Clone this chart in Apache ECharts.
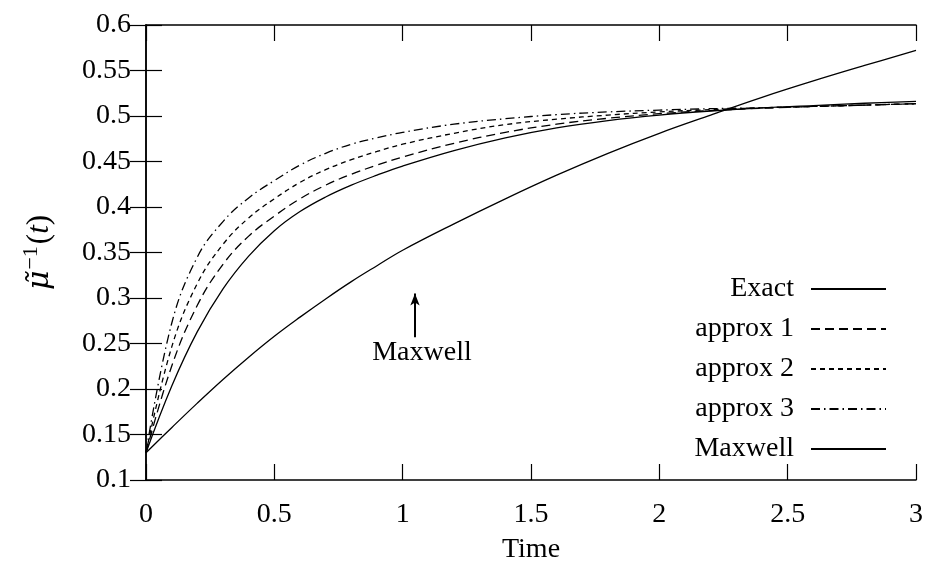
<!DOCTYPE html>
<html>
<head>
<meta charset="utf-8">
<script src="https://cdn.jsdelivr.net/npm/echarts@6/dist/echarts.min.js"></script>
<style>
  html, body { margin: 0; padding: 0; background: #fff; }
  #chart { width: 929px; height: 569px; }
</style>
</head>
<body>
<div id="chart"></div>
<script>
// sample times (x) shared by every curve
const times = [0, 0.1, 0.2, 0.3, 0.4, 0.5, 0.6, 0.7, 0.8, 0.9, 1.0, 1.2, 1.4, 1.6, 1.8, 2.0, 2.2, 2.4, 2.6, 2.8, 3.0];

const exact   = [0.13, 0.203, 0.263, 0.310, 0.346, 0.374, 0.395, 0.411, 0.424, 0.435, 0.445, 0.462, 0.476, 0.487, 0.495, 0.501, 0.5055, 0.509, 0.5115, 0.514, 0.516];
const approx1 = [0.13, 0.225, 0.292, 0.337, 0.368, 0.390, 0.409, 0.424, 0.436, 0.446, 0.455, 0.470, 0.482, 0.491, 0.4975, 0.5025, 0.506, 0.5085, 0.5105, 0.512, 0.5135];
const approx2 = [0.13, 0.246, 0.316, 0.359, 0.388, 0.409, 0.427, 0.441, 0.452, 0.461, 0.469, 0.481, 0.4905, 0.4965, 0.501, 0.5045, 0.507, 0.509, 0.5105, 0.512, 0.5135];
const approx3 = [0.13, 0.272, 0.345, 0.384, 0.410, 0.429, 0.446, 0.459, 0.469, 0.476, 0.482, 0.491, 0.497, 0.5015, 0.5045, 0.5065, 0.508, 0.509, 0.5105, 0.512, 0.5135];
const maxwell = [0.13, 0.1575, 0.1845, 0.2105, 0.235, 0.258, 0.279, 0.299, 0.318, 0.3355, 0.3525, 0.3815, 0.409, 0.435, 0.459, 0.481, 0.501, 0.5205, 0.5385, 0.5555, 0.572];

// arrow annotation: [time, value] of tail and head, label text
const arrowFrom = [1.048, 0.257];
const arrowTo = [1.048, 0.305];
const arrowText = 'Maxwell';

const seriesNames = ['Exact', 'approx 1', 'approx 2', 'approx 3', 'Maxwell'];
const seriesValues = [exact, approx1, approx2, approx3, maxwell];
const dashTypes = ['solid', [9, 5], [5, 4], [9, 4, 1.5, 4], 'solid'];

const FONT = "'Liberation Serif', 'DejaVu Serif', serif";
const FS = 28;

const chartDom = document.getElementById('chart');
const myChart = echarts.init(chartDom, null, { renderer: 'canvas' });

const zip = (ys) => times.map((t, i) => [t, ys[i]]);

const axisCommon = {
    axisLine: { show: true, lineStyle: { color: '#000', width: 1.5 } },
    axisTick: { show: true, inside: true, length: 16, lineStyle: { color: '#000', width: 1.2 } },
    splitLine: { show: false },
};

const series = seriesNames.map((name, i) => ({
    name: name,
    type: 'line',
    data: zip(seriesValues[i]),
    symbol: 'none',
    smooth: 0.4,
    lineStyle: { color: '#000', width: 1.3, type: dashTypes[i] },
    itemStyle: { color: '#000' },
    z: 5,
}));

// arrow + "Maxwell" label
series[4].markLine = {
    silent: true,
    animation: false,
    symbol: ['none', 'arrow'],
    symbolSize: [7, 12],
    lineStyle: { color: '#000', width: 2, type: 'solid' },
    label: {
        show: true,
        position: 'start',
        distance: 2,
        padding: [0, 0, 0, 14],
        formatter: arrowText,
        color: '#000',
        fontFamily: FONT,
        fontSize: FS,
    },
    data: [[{ coord: arrowFrom }, { coord: arrowTo }]],
};

const option = {
    animation: false,
    backgroundColor: '#fff',
    textStyle: { fontFamily: FONT, color: '#000' },
    grid: { left: 146, right: 13, top: 25, bottom: 85, containLabel: false },
    legend: {
        orient: 'vertical',
        right: 42,
        top: 275,
        padding: 0,
        align: 'right',
        itemWidth: 75,
        itemHeight: 14,
        itemGap: 12,
        selectedMode: false,
        itemStyle: { color: 'rgba(0,0,0,0)', borderWidth: 0, opacity: 0 },
        textStyle: { fontFamily: FONT, fontSize: FS, lineHeight: 28, color: '#000', padding: [0, 12, 0, 0] },
        data: seriesNames,
    },
    xAxis: [
        Object.assign({
            type: 'value', position: 'bottom', min: 0, max: 3, interval: 0.5,
            name: 'Time', nameLocation: 'middle', nameGap: 56,
            nameTextStyle: { fontFamily: FONT, fontSize: FS, color: '#000' },
            axisLabel: { fontFamily: FONT, fontSize: FS, color: '#000', margin: 21 },
        }, axisCommon),
        Object.assign({
            type: 'value', position: 'top', min: 0, max: 3, interval: 0.5,
            axisLabel: { show: false },
        }, axisCommon),
    ],
    yAxis: [
        Object.assign({
            type: 'value', position: 'left', min: 0.1, max: 0.6, interval: 0.05,
            name: '{m|μ̃}{s|−1}{n|(}{i|t}{n|)}', nameLocation: 'middle', nameGap: 86, nameRotate: 90,
            nameTextStyle: {
                fontFamily: FONT, fontSize: FS, color: '#000',
                rich: {
                    m: { fontFamily: "'DejaVu Serif', serif", fontSize: 30, fontStyle: 'italic', color: '#000', lineHeight: 40 },
                    i: { fontFamily: FONT, fontSize: 31, fontStyle: 'italic', color: '#000', lineHeight: 40 },
                    n: { fontFamily: FONT, fontSize: 31, color: '#000', lineHeight: 40 },
                    s: { fontFamily: FONT, fontSize: 22, color: '#000', lineHeight: 22, verticalAlign: 'top', padding: [0, 2, 0, 1] },
                },
            },
            axisLabel: { fontFamily: FONT, fontSize: FS, color: '#000', margin: 15 },
        }, axisCommon),
        Object.assign({
            type: 'value', position: 'right', min: 0.1, max: 0.6, interval: 0.05,
            axisLabel: { show: false },
        }, axisCommon),
    ],
    series: series,
};

myChart.setOption(option);
</script>
</body>
</html>
